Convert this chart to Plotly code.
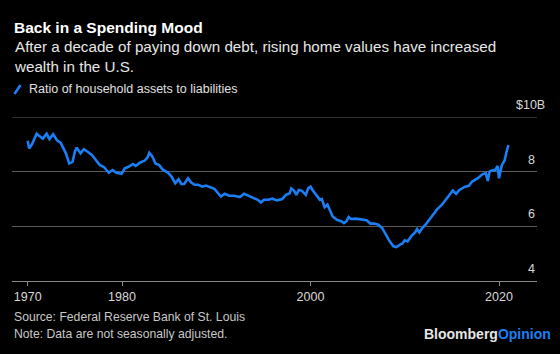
import plotly.graph_objects as go

# ---- data ----
years = [1970.0, 1970.15, 1970.45, 1970.95, 1971.2, 1971.6, 1972.0, 1972.3, 1972.7, 1973.1,
         1973.5, 1973.8, 1974.05, 1974.4, 1974.75, 1975.0, 1975.2, 1975.6, 1975.95, 1976.35,
         1976.8, 1977.1, 1977.65, 1978.05, 1978.6, 1979.0, 1979.4, 1979.95, 1980.3, 1980.7,
         1981.15, 1981.45, 1981.9, 1982.4, 1982.7, 1982.9, 1983.2, 1983.55, 1983.95, 1984.3,
         1984.9, 1985.25, 1985.65, 1986.0, 1986.3, 1986.6, 1987.0, 1987.35, 1987.7, 1988.1,
         1988.5, 1988.9, 1989.25, 1989.8, 1990.2, 1990.5, 1990.9, 1991.35, 1991.9, 1992.5,
         1992.95, 1993.4, 1994.0, 1994.4, 1994.75, 1995.05, 1995.5, 1995.95, 1996.45, 1997.0,
         1997.4, 1997.8, 1997.95, 1998.25, 1998.5, 1998.75, 1999.1, 1999.5, 1999.75, 2000.0,
         2000.25, 2000.65, 2001.0, 2001.2, 2001.5, 2001.8, 2002.05, 2002.35, 2002.8, 2003.3,
         2003.55, 2003.8, 2004.05, 2004.3, 2004.8, 2005.4, 2005.95, 2006.35, 2006.8, 2007.2,
         2007.6, 2008.0, 2008.4, 2008.8, 2009.1, 2009.5, 2009.75, 2010.0, 2010.3, 2010.7,
         2011.1, 2011.3, 2011.55, 2011.85, 2012.2, 2012.6, 2013.1, 2013.45, 2013.95, 2014.35,
         2014.7, 2015.1, 2015.45, 2015.8, 2016.4, 2016.8, 2017.15, 2017.75, 2018.3, 2018.6,
         2018.8, 2019.0, 2019.35, 2019.6, 2019.85, 2020.0, 2020.3, 2020.6, 2020.8, 2021.0]
ratio = [9.13, 8.85, 9.0, 9.39, 9.31, 9.21, 9.39, 9.19, 9.37, 9.15,
         9.05, 8.85, 8.67, 8.30, 8.36, 8.73, 8.88, 8.67, 8.82, 8.73,
         8.61, 8.48, 8.24, 8.18, 7.96, 8.06, 7.96, 7.92, 8.12, 8.18,
         8.28, 8.21, 8.33, 8.40, 8.52, 8.69, 8.57, 8.30, 8.24, 8.08,
         7.96, 7.82, 7.58, 7.72, 7.55, 7.55, 7.76, 7.60, 7.52, 7.52,
         7.45, 7.49, 7.45, 7.37, 7.21, 7.09, 7.19, 7.12, 7.12, 7.07,
         7.19, 7.12, 7.05, 6.97, 6.87, 6.97, 6.97, 7.01, 6.95, 7.0,
         7.15, 7.21, 7.39, 7.31, 7.15, 7.33, 7.30, 7.15, 7.39, 7.45,
         7.31, 7.12, 6.97, 7.0, 6.70, 6.79, 6.61, 6.36, 6.24, 6.18,
         6.12, 6.18, 6.34, 6.27, 6.28, 6.24, 6.22, 6.10, 6.10, 6.06,
         5.94, 5.70, 5.45, 5.27, 5.24, 5.33, 5.37, 5.49, 5.45, 5.64,
         5.78, 5.90, 5.78, 5.94, 6.06, 6.24, 6.46, 6.63, 6.79, 6.97,
         7.09, 7.31, 7.19, 7.33, 7.45, 7.48, 7.64, 7.76, 7.92, 7.94,
         7.66, 8.0, 8.06, 8.06, 8.21, 7.76, 8.24, 8.42, 8.73, 8.97]

x_ticks = [1970, 1980, 2000, 2020]
x_tick_labels = ["1970", "1980", "2000", "2020"]
y_ticks = [4, 6, 8, 10]
y_tick_labels = ["4", "6", "8", "$10B"]

title = "<b>Back in a Spending Mood</b>"
subtitle = "After a decade of paying down debt, rising home values have increased<br>wealth in the U.S."
series_name = "Ratio of household assets to liabilities"
source = "Source: Federal Reserve Bank of St. Louis"
note = "Note: Data are not seasonally adjusted."

# ---- layout geometry ----
W, H = 560, 354
L, R, T, B = 12, 537, 117, 281
BLUE = "#1a7ff5"
GRID = "#5a5a5a"
FONT = "Liberation Sans, Arial, sans-serif"


def py(p):  # pixel y -> paper y
    return (B - p) / (B - T)


def px(p):  # pixel x -> paper x
    return (p - L) / (R - L)


fig = go.Figure()
fig.add_trace(go.Scatter(x=years, y=ratio, mode="lines",
                         line=dict(color=BLUE, width=2.6),
                         name=series_name, showlegend=False, hoverinfo="skip"))

fig.update_layout(
    width=W, height=H,
    margin=dict(l=L, r=W - R, t=T, b=H - B, pad=0),
    paper_bgcolor="black", plot_bgcolor="black",
    font=dict(family=FONT, color="#cccccc", size=12),
    xaxis=dict(range=[1968.33, 2024.03], tickvals=x_ticks, ticktext=x_tick_labels,
               showgrid=False, zeroline=False, showline=True, linecolor="#8a8a8a", linewidth=1.2,
               ticks="outside", ticklen=4, tickcolor="#8a8a8a", tickwidth=1.2,
               tickfont=dict(size=12.5, color="#d8d8d8"), fixedrange=True),
    yaxis=dict(range=[4, 10], tickvals=y_ticks[1:3], showticklabels=False,
               showgrid=True, gridcolor=GRID, gridwidth=1.2, zeroline=False,
               showline=False, fixedrange=True),
)

# top gridline (at range edge, plotly skips it)
fig.add_shape(type="line", xref="paper", yref="y", x0=0, x1=1, y0=y_ticks[-1], y1=y_ticks[-1],
              line=dict(color=GRID, width=1.2), layer="below")

annotations = []
# y-axis labels above gridlines, right-aligned
for v, lab in zip(y_ticks, y_tick_labels):
    shift = 10 if lab.startswith("$") else 0
    annotations.append(dict(x=1, xref="paper", y=v, yref="y", text=lab, showarrow=False,
                            xanchor="right", yanchor="bottom", xshift=shift, yshift=3,
                            font=dict(size=12.5, color="#d8d8d8")))
# title / subtitle
annotations.append(dict(x=0, xref="paper", y=py(27), yref="paper", text=title, showarrow=False,
                        xanchor="left", yanchor="middle", font=dict(size=15.5, color="white")))
annotations.append(dict(x=0, xref="paper", y=py(36), yref="paper", text=subtitle, showarrow=False,
                        xanchor="left", yanchor="top", align="left",
                        font=dict(size=15.2, color="#e6e6e6")))
# legend
annotations.append(dict(x=px(27), xref="paper", y=py(89), yref="paper", text=series_name,
                        showarrow=False, xanchor="left", yanchor="middle",
                        font=dict(size=12.5, color="#e0e0e0")))
# footer
annotations.append(dict(x=0, xref="paper", y=py(317), yref="paper", text=source, showarrow=False,
                        xanchor="left", yanchor="middle", font=dict(size=12.2, color="#c8c8c8")))
annotations.append(dict(x=0, xref="paper", y=py(334), yref="paper", text=note, showarrow=False,
                        xanchor="left", yanchor="middle", font=dict(size=12.2, color="#c8c8c8")))
annotations.append(dict(x=px(553), xref="paper", y=py(334), yref="paper",
                        text="<b>Bloomberg</b><b><span style='color:%s'>Opinion</span></b>" % BLUE,
                        showarrow=False, xanchor="right", yanchor="middle",
                        font=dict(size=14, color="#e6e6e6")))
fig.update_layout(annotations=annotations)

# legend slash icon
fig.add_shape(type="line", xref="paper", yref="paper",
              x0=px(14.5), y0=py(94), x1=px(20.5), y1=py(85),
              line=dict(color=BLUE, width=2.6))

fig.write_html("out.html")
